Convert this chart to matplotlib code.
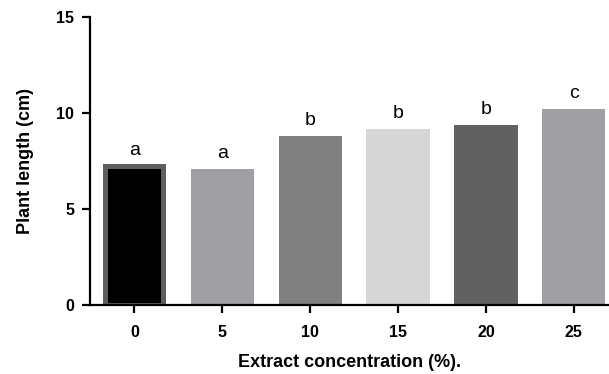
import matplotlib
matplotlib.use("Agg")
import matplotlib.pyplot as plt

concentrations = ["0", "5", "10", "15", "20", "25"]
plant_length = [7.25, 7.05, 8.8, 9.15, 9.35, 10.2]
letters = ["a", "a", "b", "b", "b", "c"]
bar_colors = ["#000000", "#a09fa4", "#808080", "#d6d6d6", "#616161", "#a09fa4"]

plt.rcParams["font.family"] = ["Liberation Sans", "DejaVu Sans"]

fig = plt.figure(figsize=(6.09, 3.74), dpi=100)
ax = fig.add_axes([0.1478, 0.1858, 0.8522, 0.7687])

x = list(range(len(concentrations)))
bars = ax.bar(x, plant_length, width=0.72, color=bar_colors, zorder=2)

# first bar has a thick dark grey outline in the original
b0 = bars[0]
b0.set_width(0.66)
b0.set_x(-0.33)
b0.set_edgecolor("#5e5e5e")
b0.set_linewidth(3.6)

for xi, v, lab in zip(x, plant_length, letters):
    ax.annotate(lab, (xi, v), xytext=(0, 5), textcoords="offset points",
                ha="center", va="bottom", fontsize=14)

ax.set_xlim(-0.506, 5.4)
ax.set_ylim(0, 15)
ax.set_yticks([0, 5, 10, 15])
ax.set_xticks(x)
ax.set_xticklabels(concentrations)

for side in ["top", "right"]:
    ax.spines[side].set_visible(False)
for side in ["left", "bottom"]:
    ax.spines[side].set_linewidth(1.6)

ax.tick_params(axis="both", direction="out", length=5.5, width=1.6,
               labelsize=11.5)
ax.tick_params(axis="x", pad=9)
ax.tick_params(axis="y", pad=6)
for lab in ax.get_xticklabels() + ax.get_yticklabels():
    lab.set_fontweight("bold")

ax.set_xlabel("Extract concentration (%).", fontsize=13, fontweight="bold", labelpad=10)
ax.set_ylabel("Plant length (cm)", fontsize=13, fontweight="bold", labelpad=16)

fig.savefig("out.png", dpi=100)
